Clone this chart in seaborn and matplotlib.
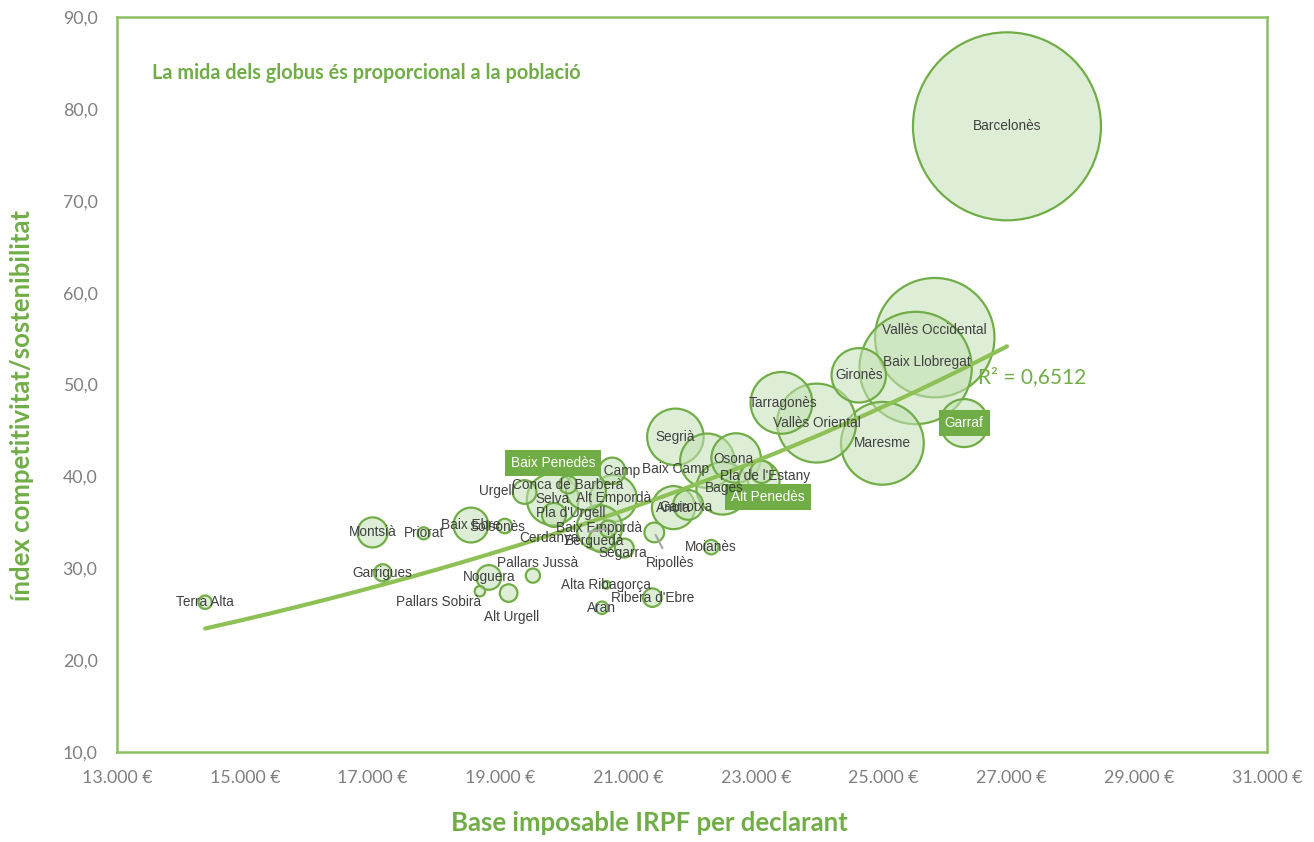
import numpy as np
import pandas as pd
import matplotlib
matplotlib.use("Agg")
import matplotlib.pyplot as plt
import seaborn as sns
from matplotlib.ticker import FixedLocator, FuncFormatter

# ---------------- data ----------------
comarques = ["Barcelonès", "Vallès Occidental", "Baix Llobregat", "Gironès", "Tarragonès",
             "Vallès Oriental", "Maresme", "Garraf", "Segrià", "Osona", "Baix Camp",
             "Pla de l'Estany", "Bages", "Alt Penedès", "Baix Penedès", "Alt Camp",
             "Conca de Barberà", "Selva", "Alt Empordà", "Urgell", "Pla d'Urgell",
             "Baix Empordà", "Cerdanya", "Berguedà", "Segarra", "Anoia", "Garrotxa",
             "Ripollès", "Moianès", "Montsià", "Priorat", "Baix Ebre", "Solsonès",
             "Garrigues", "Noguera", "Pallars Jussà", "Pallars Sobirà", "Alt Urgell",
             "Alta Ribagorça", "Ribera d'Ebre", "Aran", "Terra Alta"]
base_irpf = [26930, 25800, 25500, 24610, 23400,
             23950, 24980, 26260, 21740, 22690, 22240,
             23090, 22480, 23050, 20340, 20750,
             20060, 19820, 20770, 19380, 19840,
             20550, 20690, 20580, 20940, 21710, 21940,
             21410, 22300, 17000, 17800, 18540, 19070,
             17160, 18820, 19510, 18680, 19130,
             20660, 21380, 20590, 14380]
index_cs = [78.1, 55.1, 51.8, 51.0, 48.0,
            45.8, 43.6, 45.8, 44.3, 42.0, 41.7,
            40.5, 38.7, 39.5, 38.5, 40.6,
            39.1, 37.5, 37.6, 38.3, 35.8,
            34.4, 34.3, 33.1, 32.2, 36.6, 36.9,
            33.9, 32.3, 33.9, 33.8, 34.7, 34.6,
            29.5, 29.0, 29.2, 27.5, 27.3,
            28.2, 26.8, 25.7, 26.3]
poblacio = [2270000, 915000, 810000, 190000, 245000,
            400000, 440000, 148000, 205000, 157000, 190000,
            32000, 177000, 108000, 102000, 45000,
            20000, 172000, 140000, 36000, 37000,
            133000, 18000, 40000, 23000, 119000, 57000,
            25000, 13500, 58000, 9300, 78000, 13500,
            19000, 39000, 13000, 7000, 20000,
            3800, 22000, 10000, 11500]
r2_text = "R² = 0,6512"
x_ticks = [13000, 15000, 17000, 19000, 21000, 23000, 25000, 27000, 29000, 31000]
y_ticks = [10, 20, 30, 40, 50, 60, 70, 80, 90]

# ---------------- layout (label offsets in pixels, boxes, leader lines) -------
label_offsets = {
    "Vallès Occidental": (0, 8), "Baix Llobregat": (11, 6), "Baix Camp": (-32, -8),
    "Osona": (-3, -1), "Pla de l'Estany": (3, -4), "Alt Penedès": (9, -16),
    "Baix Penedès": (-33, 27), "Urgell": (-28, 1), "Pla d'Urgell": (17, 2),
    "Cerdanya": (-59, -9), "Berguedà": (-7, -1), "Segarra": (-1, -5),
    "Garrotxa": (-2, -2), "Ripollès": (16, -31), "Pallars Jussà": (5, 13),
    "Pallars Sobirà": (-41, -11), "Alt Urgell": (3, -24), "Solsonès": (-7, -1),
    "Tarragonès": (2, 0), "Bages": (2, 0),
}
boxed = {"Baix Penedès", "Alt Penedès", "Garraf"}
on_top = {"Bages"}
leaders = {"Cerdanya", "Ripollès"}

GREEN = "#70AD47"
FRAME = "#8CC063"
TEXT = "#404040"
CAL = ["Lato", "DejaVu Sans"]

df = pd.DataFrame({"comarca": comarques, "x": base_irpf, "y": index_cs, "pob": poblacio})
df = df.sort_values("pob", ascending=False).reset_index(drop=True)

sns.set_theme(style="white")
plt.rcParams["font.family"] = ["Liberation Sans", "DejaVu Sans"]

fig = plt.figure(figsize=(13.14, 8.42), dpi=100)
ax = fig.add_axes([117 / 1314, 1 - 752 / 842, (1267 - 117) / 1314, (752 - 17) / 842])

r_max_px = 94.0
s_max = (2 * r_max_px * 0.72) ** 2
sns.scatterplot(data=df, x="x", y="y", size="pob", sizes=(0, s_max),
                size_norm=(0, max(poblacio)), legend=False, ax=ax, zorder=2)
coll = ax.collections[0]
coll.set_facecolor((0.77, 0.88, 0.71, 0.55))
coll.set_edgecolor(GREEN)
coll.set_linewidth(1.6)

# exponential trend line (as Excel), fitted on the data
xa = np.array(base_irpf, dtype=float)
ya = np.array(index_cs, dtype=float)
b, ln_a = np.polyfit(xa, np.log(ya), 1)
xs = np.linspace(xa.min(), xa.max(), 200)
sns.lineplot(x=xs, y=np.exp(ln_a) * np.exp(b * xs), ax=ax, color="#8DC155", lw=3, zorder=3)

ax.text(26480, 50.8, r2_text, color=GREEN, fontsize=15, family=CAL,
        ha="left", va="center", zorder=5)

# labels
for _, row in df.iterrows():
    name = row["comarca"]
    dx, dy = label_offsets.get(name, (0, 0))
    kw = dict(xy=(row["x"], row["y"]), xytext=(dx, dy), textcoords="offset pixels",
              ha="center", va="center", fontsize=9.8, zorder=4)
    if name in boxed:
        kw.update(color="white", fontsize=9.8, zorder=6,
                  bbox=dict(boxstyle="square,pad=0.45", fc=GREEN, ec="none"))
    else:
        kw.update(color=TEXT)
    if name in on_top:
        kw.update(zorder=7)
    if name in leaders:
        kw.update(arrowprops=dict(arrowstyle="-", color="#A6A6A6", lw=1.5,
                                  shrinkA=4, shrinkB=2))
    ax.annotate(name, **kw)

ax.text(13550, 83.9, "La mida dels globus és proporcional a la població", color=GREEN,
        fontsize=14.3, fontweight="bold", family=CAL, ha="left", va="center")

# axes
ax.set_xlim(13000, 31000)
ax.set_ylim(10, 90)
ax.xaxis.set_major_locator(FixedLocator(x_ticks))
ax.yaxis.set_major_locator(FixedLocator(y_ticks))
ax.xaxis.set_major_formatter(FuncFormatter(lambda v, p: f"{int(v):,}".replace(",", ".") + " €"))
ax.yaxis.set_major_formatter(FuncFormatter(lambda v, p: f"{v:.1f}".replace(".", ",")))
ax.tick_params(axis="both", length=0, labelsize=12.8, labelcolor="#7F7F7F")
ax.tick_params(axis="x", pad=13)
ax.tick_params(axis="y", pad=14)
for lab in ax.get_xticklabels() + ax.get_yticklabels():
    lab.set_family(CAL)
for sp in ax.spines.values():
    sp.set_visible(True)
    sp.set_color(FRAME)
    sp.set_linewidth(1.8)
ax.grid(False)

ax.set_xlabel("Base imposable IRPF per declarant", color=GREEN, fontsize=18.5,
              fontweight="bold", family=CAL)
ax.set_ylabel("índex competitivitat/sostenibilitat", color=GREEN, fontsize=18.5,
              fontweight="bold", family=CAL)
ax.xaxis.set_label_coords(0.463, -0.097)
ax.yaxis.set_label_coords(-0.083, 0.472)
ax.xaxis.label.set_va("center")
ax.yaxis.label.set_va("center")

fig.savefig("out.png", dpi=100, facecolor="white")
